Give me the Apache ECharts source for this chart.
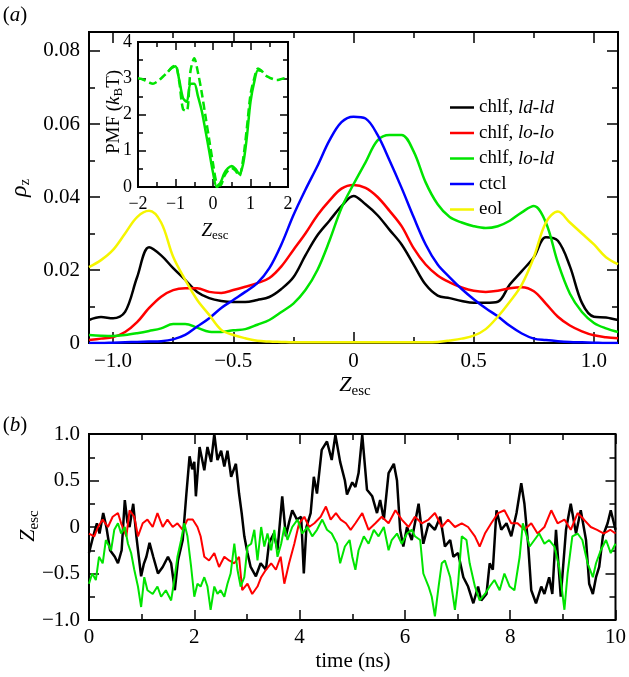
<!DOCTYPE html>
<html>
<head>
<meta charset="utf-8">
<script src="https://cdn.jsdelivr.net/npm/echarts@6/dist/echarts.min.js"></script>
<style>
html,body{margin:0;padding:0;background:#fff;}
#chart{width:629px;height:677px;}
</style>
</head>
<body>
<div id="chart"></div>
<script>
// ---------------- DATA ----------------
// Panel (a): density profiles vs Z_esc
const zGrid = [-1.10,-1.05,-1.00,-0.95,-0.90,-0.85,-0.80,-0.75,-0.70,-0.65,-0.60,-0.55,-0.50,-0.45,-0.40,-0.35,-0.30,-0.25,-0.20,-0.15,-0.10,-0.05,0.00,0.05,0.10,0.15,0.20,0.25,0.30,0.35,0.40,0.45,0.50,0.55,0.60,0.65,0.70,0.75,0.80,0.85,0.90,0.95,1.00,1.05,1.10];
const rhoLdLd = [0.0063,0.0071,0.0068,0.0085,0.0180,0.0262,0.0240,0.0205,0.0173,0.0140,0.0123,0.0115,0.0112,0.0112,0.0118,0.0126,0.0148,0.0180,0.0240,0.0295,0.0335,0.0375,0.0403,0.0380,0.0350,0.0310,0.0270,0.0215,0.0160,0.0130,0.0123,0.0115,0.0110,0.0110,0.0113,0.0160,0.0197,0.0235,0.0290,0.0280,0.0210,0.0110,0.0072,0.0070,0.0063];
const rhoLoLo = [0.0008,0.0012,0.0016,0.0030,0.0057,0.0096,0.0127,0.0145,0.0150,0.0150,0.0140,0.0137,0.0145,0.0154,0.0164,0.0178,0.0210,0.0255,0.0300,0.0350,0.0390,0.0423,0.0433,0.0425,0.0400,0.0362,0.0320,0.0260,0.0215,0.0185,0.0166,0.0152,0.0143,0.0140,0.0143,0.0150,0.0153,0.0142,0.0108,0.0072,0.0048,0.0032,0.0021,0.0016,0.0013];
const rhoLoLd = [0.0022,0.0020,0.0019,0.0022,0.0027,0.0033,0.0040,0.0052,0.0052,0.0042,0.0031,0.0030,0.0035,0.0038,0.0050,0.0063,0.0085,0.0108,0.0145,0.0200,0.0280,0.0370,0.0435,0.0495,0.0555,0.0570,0.0570,0.0525,0.0440,0.0380,0.0345,0.0330,0.0320,0.0315,0.0320,0.0335,0.0358,0.0375,0.0330,0.0220,0.0135,0.0085,0.0055,0.0040,0.0030];
const rhoCtcl = [0,0,0.0001,0.0002,0.0003,0.0004,0.0005,0.0010,0.0022,0.0045,0.0068,0.0096,0.0118,0.0140,0.0164,0.0205,0.0270,0.0350,0.0420,0.0485,0.0555,0.0605,0.0620,0.0615,0.0570,0.0500,0.0425,0.0345,0.0270,0.0215,0.0180,0.0148,0.0120,0.0095,0.0073,0.0047,0.0026,0.0012,0.0008,0.0005,0.0003,0.0002,0.0001,0,0];
const rhoEol = [0.0208,0.0227,0.0255,0.0300,0.0345,0.0362,0.0330,0.0236,0.0173,0.0118,0.0077,0.0036,0.0022,0.0013,0.0006,0.0004,0.0003,0.0002,0.0002,0.0002,0.0002,0.0002,0.0002,0.0002,0.0002,0.0002,0.0002,0.0002,0.0002,0.0003,0.0007,0.0012,0.0020,0.0038,0.0072,0.0113,0.0160,0.0235,0.0330,0.0360,0.0330,0.0300,0.0270,0.0235,0.0216];
const seriesNames = ['chlf, ld-ld','chlf, lo-lo','chlf, lo-ld','ctcl','eol'];
const seriesColors = ['#000000','#ff0000','#00e400','#0000ff','#f5f500'];

// Inset: PMF
const pmfZ = [-2.0,-1.9,-1.8,-1.7,-1.6,-1.5,-1.4,-1.3,-1.2,-1.1,-1.0,-0.9,-0.8,-0.7,-0.6,-0.5,-0.4,-0.3,-0.2,-0.1,0.0,0.1,0.2,0.3,0.4,0.5,0.6,0.7,0.8,0.9,1.0,1.1,1.2,1.3,1.4,1.5,1.6,1.7,1.8,1.9,2.0];
const pmfDashed = [3.0,2.98,2.93,2.88,2.85,2.9,2.98,3.08,3.18,3.3,3.35,2.9,2.15,2.1,3.2,3.55,3.15,2.6,1.95,1.3,0.65,0.1,0.05,0.3,0.45,0.52,0.45,0.3,0.75,1.6,2.55,3.0,3.27,3.2,3.08,3.02,2.98,2.95,2.97,3.0,3.0];
const pmfSolidZ = [-1.2,-1.1,-1.0,-0.9,-0.8,-0.7,-0.6,-0.5,-0.4,-0.3,-0.2,-0.1,0.0,0.1,0.2,0.3,0.4,0.5,0.6,0.7,0.8,0.9,1.0,1.1,1.2,1.3];
const pmfSolid = [3.18,3.28,3.33,2.95,2.45,2.35,2.85,2.85,2.5,2.1,1.55,0.98,0.4,0.0,0.12,0.38,0.52,0.58,0.5,0.36,0.62,1.35,2.35,2.9,3.22,3.2];

// Panel (b): Z_esc trajectories
const tBlack = [0,0.08,0.15,0.2,0.27,0.33,0.4,0.49,0.55,0.62,0.68,0.73,0.77,0.84,0.9,0.99,1.04,1.09,1.15,1.22,1.31,1.4,1.5,1.56,1.63,1.69,1.78,1.85,1.91,1.96,2.0,2.03,2.1,2.19,2.25,2.32,2.38,2.44,2.51,2.57,2.63,2.7,2.79,2.85,2.9,2.95,3.01,3.07,3.17,3.26,3.36,3.42,3.51,3.58,3.67,3.74,3.8,3.86,3.95,4.03,4.08,4.13,4.21,4.27,4.33,4.42,4.52,4.61,4.68,4.77,4.86,4.9,5.0,5.06,5.12,5.19,5.28,5.38,5.47,5.53,5.6,5.69,5.79,5.85,5.91,5.97,6.04,6.13,6.26,6.35,6.45,6.57,6.67,6.76,6.86,6.92,7.01,7.11,7.2,7.3,7.39,7.45,7.55,7.61,7.67,7.74,7.83,7.93,8.02,8.12,8.21,8.27,8.34,8.4,8.49,8.59,8.65,8.74,8.8,8.87,8.96,9.06,9.15,9.25,9.34,9.44,9.5,9.57,9.63,9.69,9.76,9.85,9.91,10.0];
const zBlack = [-0.28,-0.1,0.04,-0.07,0.15,0.0,-0.25,-0.32,-0.39,-0.25,0.29,0.05,0.0,0.25,-0.1,-0.53,-0.4,-0.32,-0.17,-0.32,-0.5,-0.43,-0.32,-0.39,-0.68,-0.36,-0.14,0.36,0.76,0.62,0.7,0.33,0.86,0.61,0.86,0.7,1.0,0.72,0.82,0.65,0.82,0.54,0.68,0.36,0.15,-0.1,-0.28,-0.43,-0.53,-0.39,-0.46,-0.17,-0.07,-0.25,0.33,-0.1,0.05,0.18,0.08,0.11,-0.5,0.0,0.15,0.54,0.36,0.83,0.92,0.72,0.99,0.7,0.5,0.35,0.48,0.43,0.58,0.99,0.4,0.33,0.15,0.29,0.08,0.58,0.68,0.5,-0.03,-0.21,0.0,-0.14,0.25,-0.18,0.04,-0.03,0.11,-0.21,-0.14,-0.32,-0.28,-0.54,-0.64,-0.82,-0.64,-0.79,-0.72,-0.39,-0.46,0.18,-0.03,0.04,-0.1,0.15,0.47,0.25,-0.18,-0.68,-0.82,-0.64,-0.72,-0.54,-0.72,-0.03,-0.75,-0.03,0.25,-0.07,0.18,-0.14,-0.61,-0.72,-0.54,-0.43,-0.1,0.04,0.18,-0.03];
const tRed = [0,0.1,0.17,0.26,0.36,0.45,0.55,0.61,0.71,0.77,0.86,0.93,1.02,1.11,1.21,1.3,1.4,1.49,1.59,1.68,1.78,1.87,1.97,2.06,2.12,2.19,2.28,2.38,2.47,2.57,2.66,2.76,2.85,2.91,3.01,3.1,3.2,3.27,3.36,3.46,3.55,3.64,3.71,3.8,3.9,3.99,4.09,4.18,4.28,4.4,4.5,4.59,4.69,4.78,4.88,4.97,5.06,5.19,5.31,5.44,5.56,5.69,5.82,5.94,6.07,6.19,6.32,6.45,6.57,6.7,6.82,6.95,7.08,7.2,7.33,7.42,7.52,7.64,7.77,7.89,8.02,8.14,8.27,8.4,8.52,8.65,8.78,8.9,9.03,9.15,9.28,9.4,9.53,9.65,9.78,9.9,10.0];
const zRed = [-0.07,-0.1,0.0,0.08,0.0,0.11,0.15,0.04,-0.1,0.18,0.11,-0.1,0.04,0.08,0.0,0.15,0.0,0.08,0.0,0.04,-0.03,0.08,0.08,0.0,-0.1,-0.32,-0.36,-0.28,-0.43,-0.32,-0.36,-0.39,-0.32,-0.68,-0.61,-0.72,-0.64,-0.54,-0.46,-0.39,-0.46,-0.32,-0.61,-0.39,-0.18,0.04,0.11,0.0,0.04,0.11,0.22,0.08,0.15,0.08,0.04,-0.03,0.04,0.15,-0.03,0.04,0.11,0.04,0.18,0.08,0.0,0.11,0.04,0.08,0.15,0.0,0.08,0.0,0.04,0.0,-0.1,-0.21,-0.07,0.04,0.15,0.18,0.04,0.04,-0.03,0.04,-0.07,0.0,0.18,0.04,0.08,-0.03,0.15,0.08,0.0,-0.03,-0.07,-0.03,-0.07];
const tGreen = [0,0.06,0.13,0.19,0.26,0.32,0.42,0.48,0.55,0.61,0.68,0.74,0.8,0.86,0.93,0.99,1.05,1.11,1.21,1.3,1.37,1.46,1.56,1.62,1.68,1.75,1.81,1.87,1.94,2.0,2.06,2.12,2.19,2.25,2.31,2.38,2.44,2.5,2.57,2.63,2.69,2.76,2.82,2.88,2.95,3.01,3.08,3.14,3.2,3.27,3.33,3.39,3.46,3.52,3.58,3.65,3.71,3.77,3.86,3.96,4.05,4.15,4.24,4.33,4.43,4.52,4.61,4.71,4.77,4.86,4.95,5.0,5.06,5.12,5.22,5.31,5.41,5.5,5.6,5.69,5.75,5.85,5.94,6.04,6.13,6.19,6.29,6.35,6.45,6.51,6.57,6.64,6.7,6.76,6.86,6.95,7.01,7.08,7.17,7.23,7.33,7.42,7.52,7.61,7.7,7.8,7.89,7.99,8.08,8.18,8.24,8.3,8.37,8.46,8.55,8.65,8.74,8.84,8.93,9.03,9.09,9.18,9.28,9.37,9.47,9.57,9.63,9.72,9.82,9.91,10.0];
const zGreen = [-0.61,-0.5,-0.57,-0.32,-0.39,-0.14,-0.25,-0.03,0.04,-0.07,0.0,-0.18,-0.28,-0.46,-0.64,-0.86,-0.54,-0.68,-0.72,-0.64,-0.75,-0.68,-0.79,-0.57,-0.32,-0.14,0.04,-0.1,-0.43,-0.75,-0.61,-0.64,-0.54,-0.64,-0.89,-0.64,-0.72,-0.68,-0.75,-0.61,-0.5,-0.18,-0.46,-0.64,-0.54,-0.21,-0.18,-0.03,-0.36,0.0,-0.21,-0.07,-0.25,-0.03,-0.32,-0.18,0.0,-0.14,0.0,0.08,-0.07,0.0,-0.1,-0.03,0.08,-0.03,-0.07,-0.18,-0.39,-0.21,-0.14,-0.32,-0.46,-0.25,-0.1,-0.18,-0.03,-0.1,0.0,-0.25,-0.14,-0.07,-0.18,-0.07,-0.03,-0.1,-0.14,-0.5,-0.64,-0.75,-0.96,-0.64,-0.39,-0.36,-0.54,-0.89,-0.61,-0.1,-0.14,-0.39,-0.64,-0.79,-0.72,-0.64,-0.57,-0.68,-0.5,-0.64,-0.68,-0.32,0.04,-0.07,-0.21,-0.14,-0.07,-0.18,-0.14,-0.21,-0.43,-0.89,-0.5,-0.1,-0.07,-0.14,-0.39,-0.54,-0.39,-0.25,-0.14,-0.28,-0.18];

// Tick values and labels
const mainXTicks = [-1.0,-0.5,0,0.5,1.0], mainXLabels = ['\u22121.0','\u22120.5','0','0.5','1.0'], mainXMinor = [-0.75,-0.25,0.25,0.75];
const mainYTicks = [0,0.02,0.04,0.06,0.08], mainYLabels = ['0','0.02','0.04','0.06','0.08'], mainYMinor = [0.01,0.03,0.05,0.07];
const insXTicks = [-2,-1,0,1,2], insXLabels = ['\u22122','\u22121','0','1','2'], insXMinor = [-1.5,-0.5,0.5,1.5];
const insYTicks = [0,1,2,3,4], insYLabels = ['0','1','2','3','4'], insYMinor = [0.5,1.5,2.5,3.5];
const bXTicks = [0,2,4,6,8,10], bXLabels = ['0','2','4','6','8','10'], bXMinor = [1,3,5,7,9];
const bYTicks = [-1,-0.5,0,0.5,1], bYLabels = ['\u22121.0','\u22120.5','0','0.5','1.0'], bYMinor = [-0.75,-0.25,0.25,0.75];

// ---------------- CHART ----------------
const FONT = 'Liberation Serif';
const LS = {color:'#000', width:1.5};
function axisSide(gi, min, max, pos, major, minor, labels, majLen, minLen, fontSize, margin) {
  const base = {type:'value', gridIndex:gi, min:min, max:max, position:pos, axisLine:{show:false, onZero:false}, splitLine:{show:false}, minorTick:{show:false}, silent:true};
  const fmt = function (v) { const i = major.findIndex(function (m) { return Math.abs(m - v) < 1e-9; }); return i >= 0 ? labels[i] : ''; };
  return [
    Object.assign({}, base, {
      axisTick:{show:true, inside:true, length:majLen, customValues:major, lineStyle:LS},
      axisLabel: labels ? {show:true, customValues:major, formatter:fmt, fontFamily:FONT, fontSize:fontSize, color:'#000', margin:margin} : {show:false}
    }),
    Object.assign({}, base, {
      axisTick:{show:true, inside:true, length:minLen, customValues:minor, lineStyle:LS},
      axisLabel:{show:false}
    })
  ];
}

const xAxes = [].concat(
  axisSide(0, -1.1, 1.1, 'bottom', mainXTicks, mainXMinor, mainXLabels, 11, 6, 21, 8),
  axisSide(0, -1.1, 1.1, 'top', mainXTicks, mainXMinor, null, 11, 6),
  axisSide(1, -2, 2, 'bottom', insXTicks, insXMinor, insXLabels, 8, 5, 18, 8),
  axisSide(1, -2, 2, 'top', insXTicks, insXMinor, null, 8, 5),
  axisSide(2, 0, 10, 'bottom', bXTicks, bXMinor, bXLabels, 10, 6, 21, 7),
  axisSide(2, 0, 10, 'top', bXTicks, bXMinor, null, 10, 6)
);
const yAxes = [].concat(
  axisSide(0, 0, 0.0852, 'left', mainYTicks, mainYMinor, mainYLabels, 11, 6, 21, 9),
  axisSide(0, 0, 0.0852, 'right', mainYTicks, mainYMinor, null, 11, 6),
  axisSide(1, 0, 4, 'left', insYTicks, insYMinor, insYLabels, 8, 5, 18, 6),
  axisSide(1, 0, 4, 'right', insYTicks, insYMinor, null, 8, 5),
  axisSide(2, -1, 1, 'left', bYTicks, bYMinor, bYLabels, 10, 6, 21, 9),
  axisSide(2, -1, 1, 'right', bYTicks, bYMinor, null, 10, 6)
);

function pairs(xs, ys) { return xs.map(function (x, i) { return [x, ys[i]]; }); }

const mainSeries = [rhoLdLd, rhoLoLo, rhoLoLd, rhoCtcl, rhoEol].map(function (arr, k) {
  return {name:seriesNames[k], type:'line', xAxisIndex:0, yAxisIndex:0, data:pairs(zGrid, arr),
    showSymbol:false, smooth:0.35, lineStyle:{color:seriesColors[k], width:2.5}, itemStyle:{color:seriesColors[k]}, z:3};
});
const insetSeries = [
  {name:'pmf-dashed', type:'line', xAxisIndex:4, yAxisIndex:4, data:pairs(pmfZ, pmfDashed), showSymbol:false, smooth:0.3,
    lineStyle:{color:'#00e400', width:2.5, type:[8,4]}, z:4},
  {name:'pmf-solid', type:'line', xAxisIndex:4, yAxisIndex:4, data:pairs(pmfSolidZ, pmfSolid), showSymbol:false, smooth:0.3,
    lineStyle:{color:'#00e400', width:2.5}, z:4}
];
const bSeries = [
  {name:'traj-ldld', type:'line', xAxisIndex:8, yAxisIndex:8, data:pairs(tBlack, zBlack), showSymbol:false, lineStyle:{color:'#000', width:2.5}},
  {name:'traj-lolo', type:'line', xAxisIndex:8, yAxisIndex:8, data:pairs(tRed, zRed), showSymbol:false, lineStyle:{color:'#ff0000', width:2}},
  {name:'traj-lold', type:'line', xAxisIndex:8, yAxisIndex:8, data:pairs(tGreen, zGreen), showSymbol:false, lineStyle:{color:'#00e400', width:2}}
];

// text helpers (measured sequences, for sub-scripts)
const cvs = document.createElement('canvas').getContext('2d');
function fontStr(size, italic) { return (italic ? 'italic ' : '') + size + 'px "' + FONT + '"'; }
function seqGroup(x, y, rot, pieces) {
  let w = 0;
  pieces.forEach(function (p) { cvs.font = fontStr(p.s, p.i); p.w = cvs.measureText(p.t).width; w += p.w; });
  let cx = -w / 2;
  const children = pieces.map(function (p) {
    const el = {type:'text', x:cx, y:(p.dy || 0), style:{text:p.t, font:fontStr(p.s, p.i), fill:'#000', align:'left', verticalAlign:'middle', textAlign:'left', textVerticalAlign:'middle'}};
    cx += p.w;
    return el;
  });
  return {type:'group', x:x, y:y, rotation:rot || 0, children:children, silent:true};
}

const graphics = [
  seqGroup(15, 15, 0, [{t:'(', s:21}, {t:'a', s:21, i:true}, {t:')', s:21}]),
  seqGroup(15, 425, 0, [{t:'(', s:21}, {t:'b', s:21, i:true}, {t:')', s:21}]),
  seqGroup(355, 385, 0, [{t:'Z', s:22, i:true}, {t:'esc', s:15, dy:6}]),
  seqGroup(20, 188, Math.PI / 2, [{t:'\u03C1', s:24, i:true}, {t:'z', s:15, dy:5}]),
  seqGroup(215, 231, 0, [{t:'Z', s:19, i:true}, {t:'esc', s:13, dy:5}]),
  seqGroup(114, 112, Math.PI / 2, [{t:'PMF (', s:19}, {t:'k', s:19, i:true}, {t:'B', s:13, dy:5}, {t:'T)', s:19}]),
  seqGroup(28, 526, Math.PI / 2, [{t:'Z', s:22, i:true}, {t:'esc', s:15, dy:6}]),
  seqGroup(353, 661, 0, [{t:'time (ns)', s:21}])
];

const chart = echarts.init(document.getElementById('chart'), null, {renderer:'canvas'});
chart.setOption({
  animation:false,
  backgroundColor:'#ffffff',
  grid:[
    {left:89, top:32, width:529, height:311, show:true, borderColor:'#000', borderWidth:2, backgroundColor:'transparent', containLabel:false},
    {left:138, top:42, width:150, height:145, show:true, borderColor:'#000', borderWidth:2, backgroundColor:'#ffffff', containLabel:false},
    {left:89, top:434, width:529, height:186, show:true, borderColor:'#000', borderWidth:2, backgroundColor:'transparent', containLabel:false}
  ],
  xAxis:xAxes,
  yAxis:yAxes,
  legend:{
    orient:'vertical', left:445, top:93, itemWidth:24, itemHeight:2.5, itemGap:6.5, icon:'rect',
    data:seriesNames, selectedMode:false,
    textStyle:{fontFamily:FONT, fontSize:19, color:'#000',
      rich:{n:{fontFamily:FONT, fontSize:19, color:'#000'}, i:{fontFamily:FONT, fontSize:19, fontStyle:'italic', color:'#000'}}},
    formatter:function (name) { const m = name.match(/^(.*, )(.*)$/); return m ? '{n|' + m[1] + '}{i|' + m[2] + '}' : '{n|' + name + '}'; }
  },
  graphic:graphics,
  series:[].concat(mainSeries, insetSeries, bSeries)
});
</script>
</body>
</html>
